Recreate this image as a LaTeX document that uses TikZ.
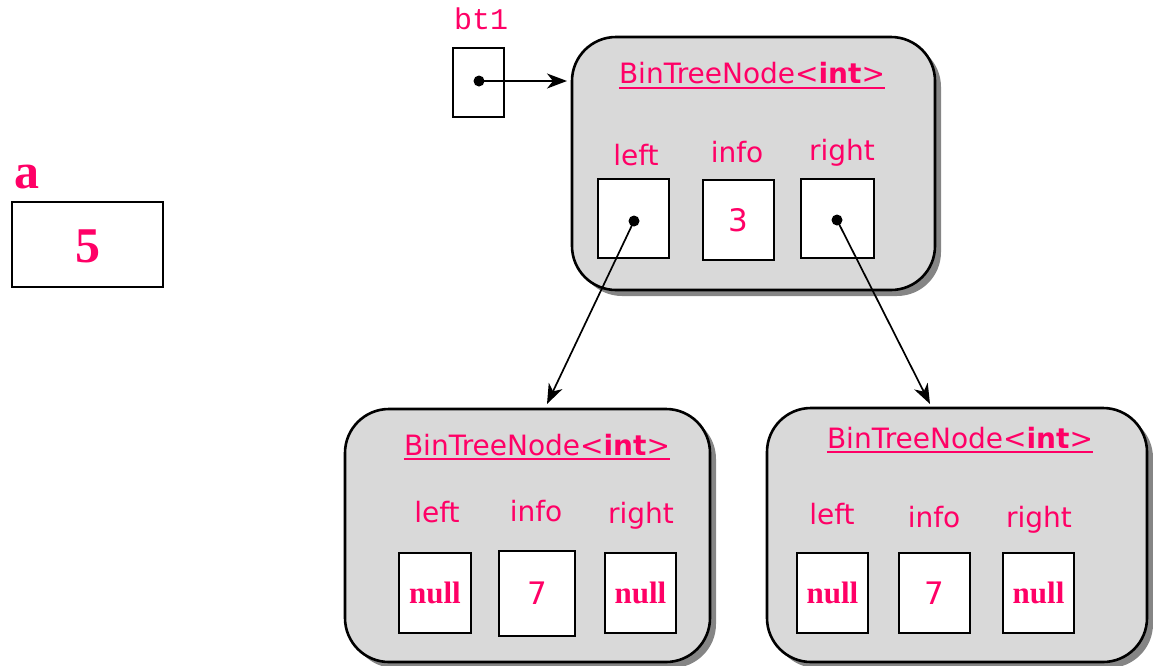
\documentclass[tikz,border=0pt]{standalone}
\usepackage{fontspec}
\setmainfont{DejaVu Sans}
\newfontfamily\tnr{Liberation Serif}
\newfontfamily\mono{Liberation Mono}
\usetikzlibrary{arrows.meta,shadows}
\definecolor{hot}{HTML}{FF0066}
\definecolor{panelgray}{HTML}{D9D9D9}

\begin{document}
\begin{tikzpicture}[x=1pt,y=-1pt,
  panel/.style={draw=black, line width=2.6pt, fill=panelgray, rounded corners=44pt,
    drop shadow={shadow xshift=6pt, shadow yshift=-6pt, opacity=1, fill=black!48},
    inner sep=0},
  field/.style={draw=black, line width=1.6pt, fill=white, inner sep=0,
    minimum width=71pt, minimum height=80pt, text=hot},
  title/.style={anchor=base, inner sep=0, text=hot, font=\fontsize{28}{30}\selectfont},
  lbl/.style={anchor=base, inner sep=0, text=hot, font=\fontsize{28}{30}\selectfont},
  numtxt/.style={font=\fontsize{31}{33}\selectfont},
  nulltxt/.style={font=\tnr\bfseries\fontsize{31}{33}\selectfont},
  arr/.style={-{Stealth[length=20pt,width=15pt,inset=6pt]}, line width=1.7pt},
  uline/.style={hot, line width=1.5pt}]
\useasboundingbox (0,0) rectangle (1153,665);

% plain variable a
\node[anchor=base, inner sep=0, text=hot, font=\tnr\bfseries\fontsize{50}{52}\selectfont] (alabel) at (27,188) {a};
\node[draw=black, line width=2pt, minimum width=151pt, minimum height=85pt, inner sep=0] (abox) at (87.5,244.5) {};
\node[anchor=base, inner sep=0, text=hot, font=\tnr\bfseries\fontsize{50}{52}\selectfont] (aval) at (88,262) {5};

% reference variable bt1
\node[anchor=base, inner sep=0, text=hot, font=\mono\fontsize{30}{32}\selectfont] (btlabel) at (481,29) {bt1};
\node[draw=black, line width=1.6pt, fill=white, minimum width=51pt, minimum height=69pt, inner sep=0] (btbox) at (478.5,82.5) {};
\coordinate (d0) at (479,81);
\coordinate (t0) at (567,81);

% root node
\node[panel, minimum width=363pt, minimum height=253pt] (root) at (753.5,163.5) {};
\node[title] (rt) at (752,83) {BinTreeNode<\textbf{int}>};
\draw[uline] ([yshift=-5pt]rt.base west) -- ([yshift=-5pt]rt.base east);
\node[lbl] (rl) at (636,165) {left};
\node[lbl] (ri) at (737,162) {info};
\node[lbl] (rr) at (842,160) {right};
\node[field, minimum height=79pt] (rlf) at (633.5,218.5) {};
\node[field, numtxt] (rif) at (738.5,220) {3};
\node[field, minimum width=73pt, minimum height=79pt] (rrf) at (837.5,218.5) {};
\coordinate (dl) at (634,221);
\coordinate (dr) at (837,220);

% left child
\node[panel, minimum width=365pt, minimum height=253pt] (lc) at (527.5,535.5) {};
\node[title] (lt) at (537,455) {BinTreeNode<\textbf{int}>};
\draw[uline] ([yshift=-4pt]lt.base west) -- ([yshift=-4pt]lt.base east);
\node[lbl] (ll) at (437,522) {left};
\node[lbl] (li) at (536,521) {info};
\node[lbl] (lr) at (641,523) {right};
\node[field, nulltxt, minimum width=72pt] (llf) at (435,593) {null};
\node[field, numtxt, minimum width=76pt, minimum height=85pt] (lif) at (537,593.5) {7};
\node[field, nulltxt] (lrf) at (640.5,593) {null};

% right child
\node[panel, minimum width=380pt, minimum height=254pt] (rc) at (957,535) {};
\node[title] (ct) at (960,448) {BinTreeNode<\textbf{int}>};
\draw[uline] ([yshift=-4pt]ct.base west) -- ([yshift=-4pt]ct.base east);
\node[lbl] (cl) at (832,524) {left};
\node[lbl] (ci) at (934,527) {info};
\node[lbl] (cr) at (1039,527) {right};
\node[field, nulltxt] (clf) at (832.5,593) {null};
\node[field, numtxt] (cif) at (934.5,593) {7};
\node[field, nulltxt] (crf) at (1038.5,593) {null};

% pointer dots and links
\coordinate (tl) at (547,404);
\coordinate (tr) at (930,404);
\foreach \p in {d0,dl,dr} \fill (\p) circle[radius=5.5pt];
\draw[arr] (d0) -- (t0);
\draw[arr] (dl) -- (tl);
\draw[arr] (dr) -- (tr);
\end{tikzpicture}
\end{document}
